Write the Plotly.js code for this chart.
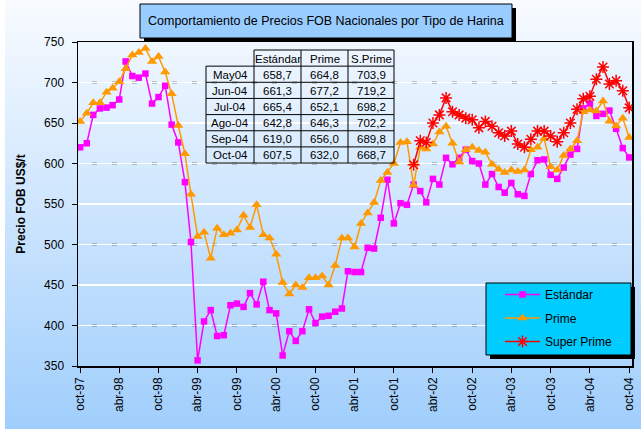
<!DOCTYPE html>
<html><head><meta charset="utf-8">
<script src="https://cdn.plot.ly/plotly-3.0.1.min.js"></script>
<style>
html,body{margin:0;padding:0;background:#fff;}
#wrap{position:relative;width:641px;height:429px;overflow:hidden;}
#bg{position:absolute;left:5px;top:0;width:636px;height:429px;background:linear-gradient(to bottom,#f8fbff 0%,#a0cefc 100%);}
#chart{position:absolute;left:0;top:0;width:641px;height:429px;}
</style></head><body>
<div id="wrap"><div id="bg"></div><div id="chart"></div></div>
<script>
// Monthly categories oct-97 .. oct-04
const months = [
 '1997-10-01','1997-11-01','1997-12-01',
 '1998-01-01','1998-02-01','1998-03-01','1998-04-01','1998-05-01','1998-06-01','1998-07-01','1998-08-01','1998-09-01','1998-10-01','1998-11-01','1998-12-01',
 '1999-01-01','1999-02-01','1999-03-01','1999-04-01','1999-05-01','1999-06-01','1999-07-01','1999-08-01','1999-09-01','1999-10-01','1999-11-01','1999-12-01',
 '2000-01-01','2000-02-01','2000-03-01','2000-04-01','2000-05-01','2000-06-01','2000-07-01','2000-08-01','2000-09-01','2000-10-01','2000-11-01','2000-12-01',
 '2001-01-01','2001-02-01','2001-03-01','2001-04-01','2001-05-01','2001-06-01','2001-07-01','2001-08-01','2001-09-01','2001-10-01','2001-11-01','2001-12-01',
 '2002-01-01','2002-02-01','2002-03-01','2002-04-01','2002-05-01','2002-06-01','2002-07-01','2002-08-01','2002-09-01','2002-10-01','2002-11-01','2002-12-01',
 '2003-01-01','2003-02-01','2003-03-01','2003-04-01','2003-05-01','2003-06-01','2003-07-01','2003-08-01','2003-09-01','2003-10-01','2003-11-01','2003-12-01',
 '2004-01-01','2004-02-01','2004-03-01','2004-04-01','2004-05-01','2004-06-01','2004-07-01','2004-08-01','2004-09-01','2004-10-01'
];

const estandar = [
 620,625,660,668,669,672,679,726,708,706,
 711,674,682,696,648,626,577,503,357,405,
 419,387,388,425,427,423,440,426,454,419,
 415,363,393,381,393,420,403,411,412,417,
 421,467,466,466,496,495,533,580,526,551,
 549,574,566,552,581,574,607,599,607,617,
 603,600,574,587,571,564,576,562,560,587,
 604,605,586,581,595,611,618,668,674,658.7,
 661.3,665.4,642.8,619.0,607.5
];

const prime = [
 652,662,675,675,688,693,701,717,734,737,
 742,726,732,713,686,647,612,562,510,515,
 483,520,512,514,518,536,521,549,512,508,
 488,453,439,450,447,459,459,461,450,474,
 508,508,497,526,539,552,579,589,600,626,
 627,573,620,618,624,639,646,625,602,617,
 620,616,614,599,593,589,592,590,592,617,
 620,631,596,592,610,618,628,664,666,664.8,
 677.2,652.1,646.3,656.0,632.0
];

// Super Prime starts ene-02
const superPrimeStart = '2002-01-01';
const superPrime = [
 598.5,628,626,650,660,681,664,660,656,
 654,644,652,646,638,634,640,624,620,630,
 640,640,634,627,638,650,667,680,683,703.9,
 719.2,698.2,702.2,689.8,668.7
];

const tickVals = ['1997-10-01','1998-04-01','1998-10-01','1999-04-01','1999-10-01','2000-04-01','2000-10-01','2001-04-01','2001-10-01','2002-04-01','2002-10-01','2003-04-01','2003-10-01','2004-04-01','2004-10-01'];
const tickText = ['oct-97','abr-98','oct-98','abr-99','oct-99','abr-00','oct-00','abr-01','oct-01','abr-02','oct-02','abr-03','oct-03','abr-04','oct-04'];
const yTicks = [350,400,450,500,550,600,650,700,750];
const gridVals = [400,450,500,550,600,650,700];

const tableRows = ['May04','Jun-04','Jul-04','Ago-04','Sep-04','Oct-04'];
const tableHeader = ['Estándar','Prime','S.Prime'];

const fmt = v => v.toFixed(1).replace('.', ',');
const lastN = (arr, n) => arr.slice(arr.length - n).map(fmt);
const tableCols = [lastN(estandar,6), lastN(prime,6), lastN(superPrime,6)];

const spX = months.slice(months.indexOf(superPrimeStart));
const FONT = 'Arial, "Liberation Sans", sans-serif';

// page geometry helpers (pixel -> paper)
const W = 641, H = 429, ML = 78, MR = 9, MT = 42, MB = 63;
const PW = W - ML - MR, PH = H - MT - MB;
const px = x => (x - ML) / PW;
const py = y => (H - MB - y) / PH;

const traces = [
 {type:'scatter', mode:'lines+markers', name:'Estándar', x:months, y:estandar, legendgroup:'a',
  line:{color:'#ff00ff', width:1.5}, marker:{symbol:'square', size:6.5, color:'#ff00ff'}},
 {type:'scatter', mode:'lines+markers', name:'Prime', x:months, y:prime, legendgroup:'b',
  line:{color:'#ff9900', width:1.5}, marker:{symbol:'triangle-up', size:9, color:'#ff9900'}},
 {type:'scatter', mode:'lines+markers', name:'Super Prime', x:spX, y:superPrime, legendgroup:'c',
  line:{color:'#ff0000', width:1.5}, marker:{symbol:'asterisk-open', size:10, color:'#ff0000', line:{color:'#ff0000', width:1.5}}}
];

const shapes = [];
gridVals.forEach(v => shapes.push({type:'line', xref:'paper', yref:'y', x0:0, x1:1, y0:v, y1:v,
  layer:'below', line:{color:'#333', width:1.5, dash:'0px,14px,5px,1px'}}));
const rect = (x0,x1,y0,y1,fill,lw) => ({type:'rect', xref:'paper', yref:'paper',
  x0:px(x0), x1:px(x1), y0:py(y1), y1:py(y0), layer:'above', fillcolor:fill,
  line: lw ? {color:'#000', width:lw} : {width:0}});
const hline = (x0,x1,y) => ({type:'line', xref:'paper', yref:'paper', x0:px(x0), x1:px(x1), y0:py(y), y1:py(y),
  layer:'above', line:{color:'#000', width:1}});
const vline = (x,y0,y1) => ({type:'line', xref:'paper', yref:'paper', x0:px(x), x1:px(x), y0:py(y0), y1:py(y1),
  layer:'above', line:{color:'#000', width:1}});

// title box (shadow + box)
shapes.push(rect(144, 516, 8, 42, '#000', 0));
shapes.push(rect(140, 512, 4, 38, '#99ccff', 1));
// legend box (shadow + box)
shapes.push(rect(490, 635, 287, 359, '#000', 0));
shapes.push(rect(486, 631, 283, 355, '#00ccff', 1));

// data table grid
const colEdges = [206, 254, 301, 348, 394];
const rowTop = 50, rowH = 16.15, nRows = tableRows.length + 1;
const rowEdge = i => rowTop + i * rowH;
shapes.push(hline(colEdges[1], colEdges[4], rowEdge(0)));
for (let i = 1; i <= nRows; i++) shapes.push(hline(colEdges[0], colEdges[4], rowEdge(i)));
shapes.push(vline(colEdges[0], rowEdge(1), rowEdge(nRows)));
for (let c = 1; c < colEdges.length; c++) shapes.push(vline(colEdges[c], rowEdge(0), rowEdge(nRows)));

const annotations = [{xref:'paper', yref:'paper', x:px(326), y:py(21), xanchor:'center', yanchor:'middle', showarrow:false,
   text:'Comportamiento de Precios FOB Nacionales por Tipo de Harina', font:{family:FONT, size:12.5, color:'#000'}}];
const cell = (c, r, txt) => annotations.push({xref:'paper', yref:'paper',
  x:px((colEdges[c] + colEdges[c+1]) / 2), y:py(rowEdge(r) + rowH / 2 + 0.5),
  xanchor:'center', yanchor:'middle', showarrow:false, text:txt,
  font:{family:FONT, size:11.5, color:'#000'}});
tableHeader.forEach((h, j) => cell(j + 1, 0, h));
tableRows.forEach((lab, i) => {
  cell(0, i + 1, lab);
  tableCols.forEach((col, j) => cell(j + 1, i + 1, col[i]));
});

const layout = {
 width:W, height:H,
 margin:{l:ML, r:MR, t:MT, b:MB},
 paper_bgcolor:'rgba(0,0,0,0)', plot_bgcolor:'rgba(0,0,0,0)',
 font:{family:FONT, size:12, color:'#000'},
 showlegend:true,
 legend:{x:px(500), xanchor:'left', y:py(280), yanchor:'top', bgcolor:'rgba(0,0,0,0)', borderwidth:0,
   font:{family:FONT, size:12, color:'#000'}, itemwidth:35, traceorder:'grouped', tracegroupgap:4.5},
 xaxis:{type:'date', range:['1997-09-21','2004-10-14'], tickmode:'array', tickvals:tickVals, ticktext:tickText,
   tickangle:-90, ticks:'outside', ticklen:5, tickcolor:'#000', tickwidth:1,
   showline:true, linecolor:'#000', linewidth:1.5, mirror:true, showgrid:false, zeroline:false,
   tickfont:{family:FONT, size:12, color:'#000'}},
 yaxis:{range:[350,750], tickmode:'array', tickvals:yTicks, ticks:'outside', ticklen:5, tickcolor:'#000',
   ticklabelstandoff:5,
   showline:true, linecolor:'#000', linewidth:1.5, mirror:true, showgrid:true, gridcolor:'#ffffff', gridwidth:1.5,
   zeroline:false, tickfont:{family:FONT, size:12, color:'#000'},
   title:{text:'Precio FOB US$/t', font:{family:FONT, size:12, color:'#000', weight:'bold'}, standoff:16}},
 shapes:shapes,
 annotations:annotations
};

Plotly.newPlot('chart', traces, layout, {displayModeBar:false, staticPlot:true});
</script>
</body></html>
